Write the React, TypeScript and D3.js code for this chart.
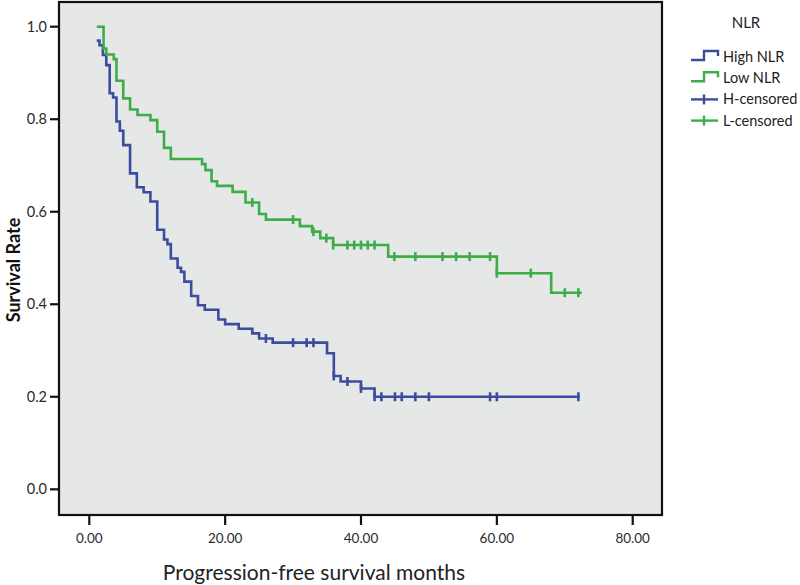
import * as d3 from 'd3';

// Kaplan-Meier steps: [month, survival after the drop]
const highSteps: [number, number][] = [
  [1.1, 0.970], [1.5, 0.960], [2.0, 0.939], [2.5, 0.917], [3.0, 0.856], [3.5, 0.847],
  [4.0, 0.795], [4.5, 0.775], [5.0, 0.744], [6.0, 0.683], [7.0, 0.653], [8.0, 0.642],
  [9.0, 0.622], [10.0, 0.561], [11.0, 0.540], [11.5, 0.530], [12.0, 0.499], [13.0, 0.479],
  [13.5, 0.470], [14.0, 0.449], [15.0, 0.418], [16.0, 0.398], [17.0, 0.388], [19.0, 0.367],
  [20.0, 0.357], [22.0, 0.347], [24.0, 0.337], [25.0, 0.326], [27.0, 0.317], [35.0, 0.294],
  [36.0, 0.245], [37.0, 0.233], [40.0, 0.218], [42.0, 0.200],
];
const highEnd = 72.2;
const highCensored = [26, 30, 32, 33, 36, 38, 40, 42, 43, 45, 46, 48, 50, 59, 60, 72];

const lowSteps: [number, number][] = [
  [1.1, 1.0], [2.1, 0.953], [2.5, 0.940], [3.6, 0.930], [4.0, 0.883], [5.0, 0.845],
  [6.0, 0.821], [7.1, 0.809], [9.0, 0.798], [10.0, 0.773], [11.0, 0.738], [12.0, 0.714],
  [16.6, 0.703], [17.1, 0.690], [18.0, 0.666], [18.8, 0.656], [21.1, 0.643], [23.0, 0.620],
  [25.0, 0.595], [26.0, 0.583], [31.0, 0.569], [32.8, 0.557], [34.0, 0.543], [35.9, 0.528],
  [44.0, 0.503], [60.0, 0.467], [68.0, 0.425],
];
const lowEnd = 72.5;
const lowCensored = [24, 30, 33, 34.9, 35.9, 38, 39, 40, 41, 42, 44.9, 48, 52, 54, 56, 59, 60, 65, 70, 72];

const xTicks = [0, 20, 40, 60, 80];
const yTicks = [0, 0.2, 0.4, 0.6, 0.8, 1.0];
const legendItems = ['High NLR', 'Low NLR', 'H-censored', 'L-censored'];

const BLUE = '#3b4da0';
const GREEN = '#3cad49';
const FONT = 'Lato, "Open Sans", sans-serif';

const W = 800;
const H = 585;
const frame = { left: 59, top: 2, right: 662, bottom: 515 };

const x = d3.scaleLinear([0, 80], [89.3, 632.7]);
const y = d3.scaleLinear([0, 1], [489.3, 26.7]);

const stepLine = d3.line<[number, number]>()
  .x(d => x(d[0])).y(d => y(d[1]))
  .curve(d3.curveStepAfter);

function survivalAt(steps: [number, number][], t: number) {
  let s = steps[0][1];
  for (const [tt, v] of steps) if (tt <= t + 1e-9) s = v;
  return s;
}

function Curve({ steps, end, censored, color }: { steps: [number, number][]; end: number; censored: number[]; color: string }) {
  const pts: [number, number][] = [...steps, [end, steps[steps.length - 1][1]]];
  return (
    <g>
      <path d={stepLine(pts) ?? ''} fill="none" stroke={color} strokeWidth={2.6} />
      {censored.map((t, i) => {
        const cx = x(t);
        const cy = y(survivalAt(steps, t));
        return <line key={i} x1={cx} x2={cx} y1={cy - 4.5} y2={cy + 4.5} stroke={color} strokeWidth={2.6} />;
      })}
    </g>
  );
}

export default function App() {
  const lx = 691;
  return (
    <div style={{ position: 'absolute', left: 0, top: 0 }}>
      <svg width={W} height={H} style={{ display: 'block', background: '#fff' }}>
        <rect x={frame.left} y={frame.top} width={frame.right - frame.left} height={frame.bottom - frame.top}
          fill="#e6e7e7" stroke="#111" strokeWidth={2.2} />

        {/* y axis */}
        {yTicks.map(v => (
          <g key={v}>
            <line x1={50} x2={frame.left} y1={y(v)} y2={y(v)} stroke="#111" strokeWidth={2.2} />
            <text x={47} y={y(v)} dy="0.35em" textAnchor="end" fontFamily={FONT} fontSize={14.5} fill="#2a2a2a">
              {v.toFixed(1)}
            </text>
          </g>
        ))}
        <text transform={`translate(20,270) rotate(-90)`} textAnchor="middle" fontFamily={FONT} fontWeight="bold"
          fontSize={18} fill="#111">Survival Rate</text>

        {/* x axis */}
        {xTicks.map(v => (
          <g key={v}>
            <line x1={x(v)} x2={x(v)} y1={frame.bottom} y2={525} stroke="#111" strokeWidth={2.2} />
            <text x={x(v)} y={538} dy="0.35em" textAnchor="middle" fontFamily={FONT} fontSize={13.5} fill="#2a2a2a">
              {v.toFixed(2)}
            </text>
          </g>
        ))}
        <text x={314} y={580} textAnchor="middle" fontFamily={FONT} fontSize={21} fill="#222">
          Progression-free survival months
        </text>

        <Curve steps={highSteps} end={highEnd} censored={highCensored} color={BLUE} />
        <Curve steps={lowSteps} end={lowEnd} censored={lowCensored} color={GREEN} />

        {/* legend */}
        <text x={746} y={23} dy="0.35em" textAnchor="middle" fontFamily={FONT} fontSize={15} fill="#222">NLR</text>
        {legendItems.map((label, i) => {
          const cy = 57 + i * 21.2;
          const color = i % 2 === 0 ? BLUE : GREEN;
          return (
            <g key={label}>
              {i < 2 ? (
                <path d={`M${lx},${cy + 3} H${lx + 13} V${cy - 6} H${lx + 27} V${cy - 1}`} fill="none" stroke={color} strokeWidth={2.4} />
              ) : (
                <g>
                  <line x1={lx} x2={lx + 27} y1={cy} y2={cy} stroke={color} strokeWidth={2.4} />
                  <line x1={lx + 13} x2={lx + 13} y1={cy - 5} y2={cy + 5} stroke={color} strokeWidth={2.4} />
                </g>
              )}
              <text x={723} y={cy} dy="0.35em" fontFamily={FONT} fontSize={14.5} fill="#222">{label}</text>
            </g>
          );
        })}
      </svg>
    </div>
  );
}
